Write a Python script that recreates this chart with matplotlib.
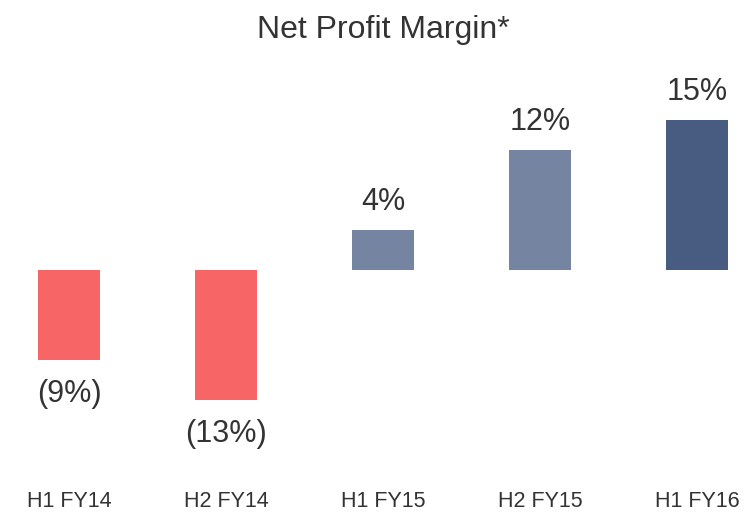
import matplotlib
matplotlib.use("Agg")
import matplotlib.pyplot as plt
import numpy as np

categories = ["H1 FY14", "H2 FY14", "H1 FY15", "H2 FY15", "H1 FY16"]
margins = [-9, -13, 4, 12, 15]
labels = ["(9%)", "(13%)", "4%", "12%", "15%"]
colors = ["#F76566", "#F76566", "#7585A1", "#7585A1", "#485B80"]

plt.rcParams['font.family'] = ['Liberation Sans', 'DejaVu Sans']
text_color = "#333333"

fig = plt.figure(figsize=(7.49, 5.12), dpi=100)
ax = fig.add_axes([0, (512 - 470) / 512, 1, 410 / 512])

x = np.arange(len(categories))
bars = ax.bar(x, margins, width=0.4, color=colors)

# value labels above / below bars
for bar, val, lab in zip(bars, margins, labels):
    cx = bar.get_x() + bar.get_width() / 2
    if val >= 0:
        ax.annotate(lab, (cx, val), xytext=(0, 9), textcoords="offset points",
                    ha="center", va="bottom", fontsize=22, color=text_color)
    else:
        ax.annotate(lab, (cx, val), xytext=(0, -14), textcoords="offset points",
                    ha="center", va="top", fontsize=22, color=text_color)

ax.set_xlim(-69 / 157, (749 - 69) / 157)
ax.set_ylim(-20, 21)
ax.set_xticks(x)
ax.set_xticklabels(categories, fontsize=15.5, color=text_color)
ax.tick_params(axis="x", length=0, pad=15)
ax.set_yticks([])
for s in ax.spines.values():
    s.set_visible(False)

fig.text(0.512, 1 - 30 / 512, "Net Profit Margin*", ha="center", va="center",
         fontsize=23, color=text_color)

fig.savefig("out.png", dpi=100)
